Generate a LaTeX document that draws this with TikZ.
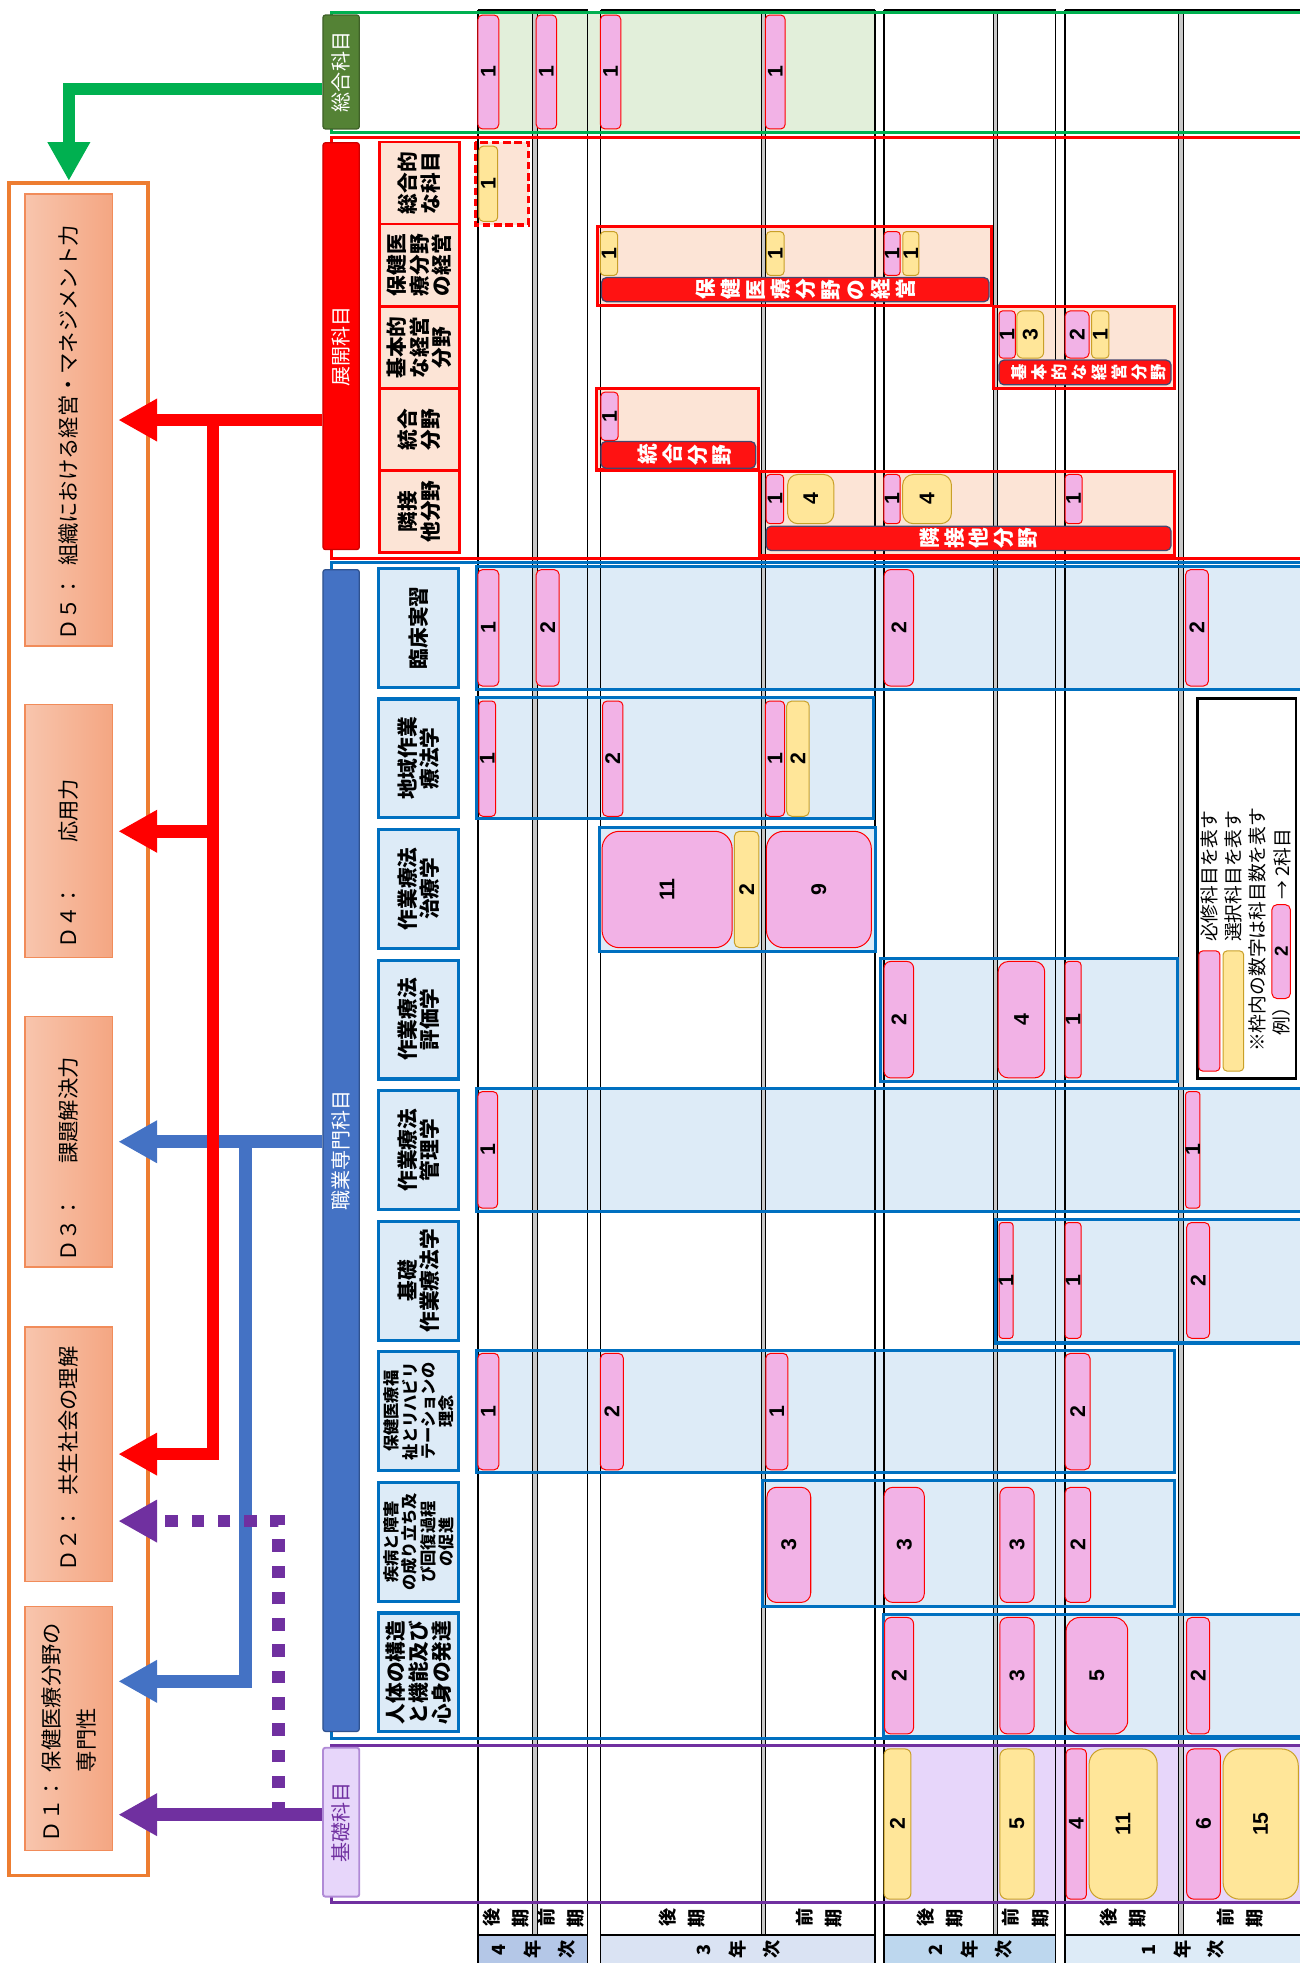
\documentclass[tikz,border=0pt]{standalone}
\usepackage{fontspec}
\setmainfont{Liberation Sans}
\newfontfamily\jp{Noto Sans CJK JP}
\usepackage{graphicx}
\usepackage{tikz}
\usetikzlibrary{arrows.meta}

\definecolor{grnbar}{RGB}{84,130,53}
\definecolor{grnline}{RGB}{0,176,80}
\definecolor{grnbg}{RGB}{226,239,218}
\definecolor{peach}{RGB}{252,228,214}
\definecolor{bluebar}{RGB}{68,114,196}
\definecolor{bluebarD}{RGB}{47,82,143}
\definecolor{blueline}{RGB}{0,112,192}
\definecolor{bluebg}{RGB}{221,235,247}
\definecolor{purp}{RGB}{112,48,160}
\definecolor{lavbg}{RGB}{231,214,250}
\definecolor{lavD}{RGB}{176,138,214}
\definecolor{pF}{RGB}{242,178,230}
\definecolor{pD}{RGB}{255,0,0}
\definecolor{yF}{RGB}{255,230,153}
\definecolor{yD}{RGB}{201,160,40}
\definecolor{dL}{RGB}{248,197,173}
\definecolor{dR}{RGB}{244,166,130}
\definecolor{dB}{RGB}{241,140,90}
\definecolor{orng}{RGB}{237,125,49}
\definecolor{labred}{RGB}{255,18,18}
\definecolor{labD}{RGB}{70,70,110}
\definecolor{yr4}{RGB}{180,199,231}
\definecolor{yr3}{RGB}{218,227,243}
\definecolor{yr2}{RGB}{189,215,238}
\definecolor{yr1}{RGB}{221,235,247}
\definecolor{divg}{RGB}{200,200,200}

\newcommand\hdfont{\jp\bfseries\fontsize{16.5}{18}\selectfont}
\newcommand\hdsmall{\jp\bfseries\fontsize{13}{14.5}\selectfont}
\newcommand\hdbig{\jp\bfseries\fontsize{16.5}{18.5}\selectfont}
\newcommand\barfont{\jp\fontsize{16}{16}\selectfont}
\newcommand\dfont{\jp\fontsize{17}{17}\selectfont}
\newcommand\prdfont{\jp\bfseries\fontsize{14.5}{14.5}\selectfont}
\newcommand\labfont{\jp\bfseries\fontsize{16.5}{16.5}\selectfont}
\newcommand\labsmall{\jp\bfseries\fontsize{13}{13}\selectfont}
\newcommand\legfont{\jp\fontsize{15}{15}\selectfont}
\newcommand\numfont{\bfseries\fontsize{17}{17}\selectfont}

\ExplSyntaxOn
\cs_new_protected:Npn \rs_vchars:nn #1#2
  { \tl_map_inline:nn {#2} { \makebox[#1]{\rotatebox[origin=c]{90}{##1}} } }
\cs_generate_variant:Nn \rs_vchars:nn { no }
\NewDocumentCommand \vchars { m m } { \rs_vchars:no {#1} {#2} }
\ExplSyntaxOff

\begin{document}
\begin{tikzpicture}[x=1pt, y=-1pt,
	blk/.style={fill=#1F, draw=#1D, line width=0.8pt},
	num/.style={rotate=90, inner sep=0pt, font=\numfont},
	bar/.style={minimum width=29pt, inner sep=0pt, rounded corners=2pt, line width=1pt, font=\barfont},
	tenhead/.style={rotate=90, draw=red, line width=2pt, fill=peach, minimum width=65.6pt, minimum height=64pt, align=center, inner sep=1pt, font=\hdfont},
	senhead/.style={rotate=90, draw=blueline, line width=2.5pt, fill=bluebg, minimum width=95pt, minimum height=64pt, align=center, inner sep=1pt, font=\hdfont},
	dbox/.style={minimum width=70pt, inner sep=0pt, outer xsep=4.5pt, outer ysep=0pt, left color=dL, right color=dR, draw=dB, line width=1pt, font=\dfont},
	lab/.style={fill=labred, draw=labD, line width=1pt, rounded corners=4pt},
	labtext/.style={inner sep=0pt, text=white, font=\labfont},
	prd/.style={inner sep=0pt, font=\prdfont},
	legtext/.style={rotate=90, anchor=west, inner sep=0pt, font=\legfont},
	arr/.style={line width=10pt, -{Triangle[length=31pt,width=32pt]}}]
		\useasboundingbox (0,0) rectangle (1038,1568);
		\def\tenrows{477.5/181/791.7/243.9, 793.9/244.8/938.3/310.4, 476.6/310.4/606.2/375.4, 607/376.3/938.3/443.4}
		\def\senrows{380.4/452.5/1041/550.8, 380.4/557/697.7/654, 478.8/661.2/699/759.7, 703.2/765.4/940.5/863.9, 380.4/869.2/1041/967.9, 795.1/974.2/1041/1072.7, 380.4/1078.4/938.3/1176.3, 609.2/1182.5/938.3/1283, 705.4/1289.5/1041/1387}
		
		\fill[grnbg] (381.8,11.5) rectangle (699.1,104.5);
		\fill[peach] (379.6,113.8) rectangle (422.3,179.7);
		\foreach \xa/\ya/\xb/\yb in \tenrows
			\fill[peach] (\xa,\ya) rectangle (\xb,\yb);
		\foreach \xa/\ya/\xb/\yb in \senrows
			\fill[bluebg] (\xa,\ya) rectangle (\xb,\yb);
		\fill[lavbg] (706.3,1395.5) rectangle (1038,1519);
		\foreach \xa/\xb/\c in {381.8/469.4/yr4, 479.7/699.1/yr3, 706.3/843.2/yr2, 850.8/1038/yr1}
			\fill[fill=\c] (\xa,1546.5) rectangle (\xb,1568);
		
		\foreach \x in {381.8,469.4,479.7,699.1,706.3,843.2,850.8}
			\draw[line width=1.2pt] (\x,8) -- (\x,1568);
		\foreach \x in {427.2,609.6,795.2,943.2}
			\draw[fill=divg, line width=0.5pt] (\x-1.8,8) rectangle (\x+1.8,1545.6);
		\foreach \xa/\xb in {381.8/469.4, 479.7/699.1, 706.3/843.2, 850.8/1038} {
			\draw[line width=1.2pt] (\xa,8) -- (\xb,8);
			\draw[line width=2pt] (\xa,1545.6) -- (\xb,1545.6);
		}
		
		\draw[grnline, line width=2.5pt] (265,9.75) rectangle (1041,105.8);
		\draw[red, line width=2.5pt] (265,110) rectangle (1041,445.8);
		\draw[blueline, line width=2.5pt] (265,449.5) rectangle (1041,1389);
		\draw[purp, line width=2.5pt] (265,1394.5) rectangle (1041,1519.5);
		\draw[red, line width=2.5pt, dash pattern=on 6pt off 3pt] (379.6,113.8) rectangle (422.3,179.7);
		\foreach \xa/\ya/\xb/\yb in \tenrows
			\draw[red, line width=2.5pt] (\xa,\ya) rectangle (\xb,\yb);
		\foreach \xa/\ya/\xb/\yb in \senrows
			\draw[blueline, line width=2.5pt] (\xa,\ya) rectangle (\xb,\yb);
		
		\foreach \x/\lbl [count=\i] in {404.5/後期, 448.3/前期, 544.7/後期, 654.4/前期, 750.8/後期, 819.2/前期, 897/後期, 990.6/前期}
			\node[prd] (prd\i) at (\x,1532) {\vchars{23.5pt}{\lbl}};
		\foreach \x/\y [count=\i] in {425.6/4, 589.4/3, 774.8/2, 944.4/1}
			\node[prd] (yr\i) at (\x,1557.5) {\vchars{27pt}{\y 年次}};
		
		\node[bar, fill=grnbar, draw=grnbar!75!black, minimum height=91pt, text=white] (sogo) at (272.5,57.5) {\rotatebox{90}{総合科目}};
		\node[bar, fill=red, draw=red!80!black, minimum height=325pt, text=white] (tenkai) at (272.5,276.5) {\rotatebox{90}{展開科目}};
		\node[bar, fill=bluebar, draw=bluebarD, minimum height=928pt, text=white] (senmon) at (272.5,919) {\rotatebox{90}{職業専門科目}};
		\node[bar, fill=lavbg, draw=lavD, line width=1.5pt, minimum height=119pt, text=purp] (kiso) at (272.5,1455.5) {\rotatebox{90}{基礎科目}};
		
		\node[tenhead] (hsogo) at (335,146.3) {総合的\\な科目};
		\node[tenhead] (hkeiei) at (335,211.9) {保健医\\療分野\\の経営};
		\node[tenhead] (hkihon) at (335,277.5) {基本的\\な経営\\分野};
		\node[tenhead] (htogo) at (335,343.1) {統合\\分野};
		\node[tenhead] (hrinsetsu) at (335,408.7) {隣接\\他分野};
		
		\node[senhead] (hrinsho) at (334.5,501.5) {臨床実習};
		\node[senhead] (hchiiki) at (334.5,605.8) {地域作業\\療法学};
		\node[senhead] (hchiryo) at (334.5,710.1) {作業療法\\治療学};
		\node[senhead] (hhyoka) at (334.5,814.4) {作業療法\\評価学};
		\node[senhead] (hkanri) at (334.5,918.7) {作業療法\\管理学};
		\node[senhead] (hkisoot) at (334.5,1023) {基礎\\作業療法学};
		\node[senhead, font=\hdsmall] (hrinen) at (334.5,1127.3) {保健医療福\\祉とリハビリ\\テーションの\\理念};
		\node[senhead, font=\hdsmall] (hshippei) at (334.5,1231.6) {疾病と障害\\の成り立ち及\\び回復過程\\の促進};
		\node[senhead, font=\hdbig] (hjintai) at (334.5,1335.9) {人体の構造\\と機能及び\\心身の発達};
		
		\foreach \ya/\yb/\blks [count=\r] in {
			12/103/{381.7/398.4/p/1, 428.3/444.6/p/1, 479.6/495.9/p/1, 611.3/627.1/p/1},
			116.8/176.8/{382.6/397.5/y/1},
			185/220/{479.6/493.3/y/1, 612.2/626.3/y/1, 706.2/719/p/1, 721.2/734/y/1},
			248.3/286.1/{798/811/p/1, 812.2/833.6/y/3, 850.7/870/p/2, 872/885.8/y/1},
			313.3/351.8/{480/493.7/p/1},
			379/418.3/{612/626/p/1, 629.2/666/y/4, 706/719/p/1, 721/760/y/4, 850.7/864.4/p/1},
			455/548/{381.7/398.4/p/1, 428.3/446.7/p/2, 706.2/729.7/p/2, 947/965.3/p/2},
			560/652/{382.6/395.8/p/1, 481.3/497.6/p/2, 611.3/626.7/p/1, 628.4/646.4/y/2},
			664/757/{480.9/584.8/p/11, 586.5/606.2/y/2, 612.2/696/p/9},
			768/861/{706.2/729.7/p/2, 797.3/834.5/p/4, 850.7/863.5/p/1},
			872/965/{381.7/397.5/p/1, 947/958.5/p/1},
			976.5/1069/{798.1/809.2/p/1, 850.7/863.5/p/1, 947.8/966.2/p/2},
			1081/1174/{381.7/398.4/p/1, 479.6/498/p/2, 611.7/629.3/p/1, 850.7/870.8/p/2},
			1188/1280/{612.6/647.6/p/3, 706.2/738.3/p/3, 798.6/826/p/3, 850.7/871.2/p/2},
			1292/1385/{706.6/729.7/p/2, 798.6/826/p/3, 851.6/900.8/p/5, 947.8/966.2/p/2},
			1397/1517/{706.2/727.6/y/2, 798.6/826/y/5, 851.6/867.8/p/4, 870/924.3/y/11, 947.8/974.8/p/6, 977/1037/y/15}} {
			\foreach \xa/\xb/\c/\n [count=\i] in \blks {
				\pgfmathsetmacro\rr{min(0.22*(\xb-\xa),14)}
				\draw[blk=\c, rounded corners=\rr pt] (\xa,\ya) rectangle (\xb,\yb);
				\node[num] (b\r-\i) at ({(\xa+\xb)/2},{(\ya+\yb)/2}) {\n};
			}
		}
		
		\foreach \xa/\ya/\xb/\yb in {480.5/221.7/790/241, 798/287.6/935.4/307.4, 480/352.6/603.6/374, 612/420.3/935.4/439.8}
			\draw[lab] (\xa,\ya) rectangle (\xb,\yb);
		\node[labtext] (lkeiei) at (643.7,231.4) {\vchars{20pt}{保健医療分野の経営}};
		\node[labtext, font=\labsmall] (lkihon) at (870,297.5) {\vchars{15.9pt}{基本的な経営分野}};
		\node[labtext] (ltogo) at (547,363.3) {\vchars{20pt}{統合分野}};
		\node[labtext] (lrinsetsu) at (782,430) {\vchars{19.5pt}{隣接他分野}};
		
		\node[draw, line width=2pt, fill=white, minimum width=78.6pt, minimum height=303.6pt, inner sep=0pt] (legend) at (995.9,709.8) {};
		\draw[blk=p, rounded corners=3pt] (957.6,759.6) rectangle (974.4,855.5);
		\draw[blk=y, rounded corners=3pt] (977,759.6) rectangle (993.4,855.5);
		\node[legtext] (leg1) at (966,752.6) {必修科目を表す};
		\node[legtext] (leg2) at (985.2,752.6) {選択科目を表す};
		\node[legtext] (leg3) at (1004.6,840.4) {※枠内の数字は科目数を表す};
		\node[legtext] (leg4) at (1023.9,827) {例）};
		\draw[blk=p, rounded corners=4pt] (1016,722.6) rectangle (1030.7,797.6);
		\node[num, font=\bfseries\fontsize{15}{15}\selectfont] (leg5) at (1023.4,760) {2};
		\node[legtext] (leg6) at (1023.9,719) {→ 2科目};
		
		\node[draw=orng, line width=3pt, minimum width=111pt, minimum height=1352pt, inner sep=0pt] (dcol) at (62.5,822) {};
		\node[dbox, minimum height=361pt] (d5) at (55,335.5) {\rotatebox{90}{\makebox[352pt][l]{\makebox[59.5pt][l]{Ｄ５：}組織における経営・マネジメント力}}};
		\node[dbox, minimum height=202pt] (d4) at (55,664) {\rotatebox{90}{\makebox[188pt][l]{\makebox[85pt][l]{Ｄ４：}応用力}}};
		\node[dbox, minimum height=200pt] (d3) at (55,912) {\rotatebox{90}{\makebox[191pt][l]{\makebox[78pt][l]{Ｄ３：}課題解決力}}};
		\node[dbox, minimum height=203pt] (d2) at (55,1161.5) {\rotatebox{90}{\makebox[188pt][l]{\makebox[61pt][l]{Ｄ２：}共生社会の理解}}};
		\node[dbox, minimum height=195pt] (d1) at (55,1380.5) {\rotatebox{90}{\parbox{182pt}{\baselineskip=28pt\makebox[56pt][l]{Ｄ１：}保健医療分野の\\\hspace*{56pt}専門性}}};
		
		\coordinate (rx) at (170,0);
		\coordinate (bx) at (196,0);
		\coordinate (px) at (222.5,0);
		\coordinate (d1b) at ([yshift=37.5pt]d1.east);
		\coordinate (d1p) at ([yshift=-69pt]d1.east);
		\coordinate (d2p) at ([yshift=-53.5pt]d2.east);
		
		\draw[arr, grnline] ([yshift=-13.5pt]sogo.west) -| (d5.north |- dcol.north);
		\draw[arr, bluebar] (senmon.west |- d3.east) -- (d3.east);
		\draw[arr, bluebar] (bx |- d3.east) -- (bx |- d1b) -- (d1b);
		\draw[arr, red] (tenkai.west |- d5.east) -- (d5.east);
		\draw[arr, red] (rx |- d5.east) -- (rx |- d2.east) -- (d2.east);
		\draw[arr, red] (rx |- d4.east) -- (d4.east);
		\draw[arr, purp] (kiso.west |- d1p) -- (d1p);
		\draw[arr, purp, dash pattern=on 10pt off 11pt] (px |- d1p) -- (px |- d2p) -- (d2p);
\end{tikzpicture}
\end{document}
